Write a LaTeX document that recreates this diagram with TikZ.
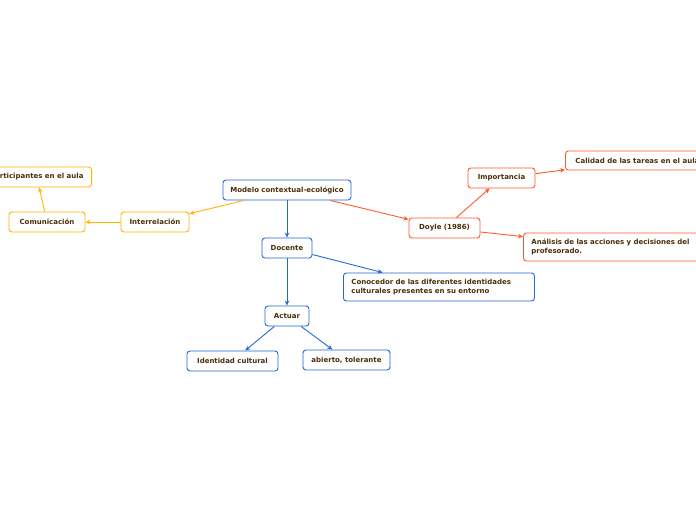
\documentclass[tikz,border=0pt]{standalone}
\usepackage{fontspec}
\setmainfont{DejaVu Sans}
\usetikzlibrary{arrows.meta}
\definecolor{cblue}{HTML}{2468D8}
\definecolor{cyellow}{HTML}{FFB400}
\definecolor{cred}{HTML}{FF5A2A}
\definecolor{ctext}{HTML}{4A2E0A}
\tikzset{
  box/.style={draw, rounded corners=3pt, line width=0.9pt, fill=white, minimum height=20pt,
    inner sep=0pt, font=\fontsize{7}{9}\selectfont\bfseries, text=ctext, align=center},
  bbox/.style={box, draw=cblue},
  ybox/.style={box, draw=cyellow},
  rbox/.style={box, draw=cred},
  wide/.style={align=left, inner xsep=8pt, inner ysep=4pt, minimum height=28pt},
  link/.style={line width=0.9pt, -{Stealth[length=5pt,width=4.5pt]}},
}
\begin{document}
\begin{tikzpicture}[x=1pt,y=-1pt]
\useasboundingbox (0,0) rectangle (696,520);
\fill[white] (0,0) rectangle (696,520);
% nodes
\node[bbox, minimum width=128pt] (modelo) at (287,190) {Modelo contextual-ecológico};
\node[bbox, minimum width=50pt] (docente) at (287,248) {Docente};
\node[bbox, minimum width=44pt] (actuar) at (287,316) {Actuar};
\node[bbox, minimum width=91pt] (ident) at (232.5,361) {Identidad cultural};
\node[bbox, minimum width=87pt] (abierto) at (346.5,360) {abierto, tolerante};
\node[bbox, wide, text width=175pt, anchor=west] (conoc) at (343,287) {Conocedor de las diferentes identidades\\culturales presentes en su entorno};
\node[ybox, minimum width=68pt] (inter) at (155,222) {Interrelación};
\node[ybox, minimum width=76pt] (comun) at (47,222) {Comunicación};
\node[ybox, inner xsep=8pt, anchor=east] (partic) at (92,177) {Participantes en el aula};
\node[rbox, minimum width=71pt] (doyle) at (444.5,228) {Doyle (1986)};
\node[rbox, minimum width=67pt] (impor) at (501.5,178) {Importancia};
\node[rbox, inner xsep=10pt, anchor=west, minimum height=19pt] (calid) at (565,160.5) {Calidad de las tareas en el aula};
\node[rbox, wide, text width=172pt, anchor=west] (anal) at (523,247) {Análisis de las acciones y decisiones del\\profesorado.};
% links
\draw[link, cyellow] (modelo) -- (inter);
\draw[link, cyellow] (inter) -- (comun);
\draw[link, cyellow] (comun) -- (partic);
\draw[link, cblue] (modelo) -- (docente);
\draw[link, cblue] (docente) -- (conoc);
\draw[link, cblue] (docente) -- (actuar);
\draw[link, cblue] (actuar) -- (ident);
\draw[link, cblue] (actuar) -- (abierto);
\draw[link, cred] (modelo) -- (doyle);
\draw[link, cred] (doyle) -- (impor);
\draw[link, cred] (impor) -- (calid);
\draw[link, cred] (doyle) -- (anal);
\end{tikzpicture}
\end{document}
